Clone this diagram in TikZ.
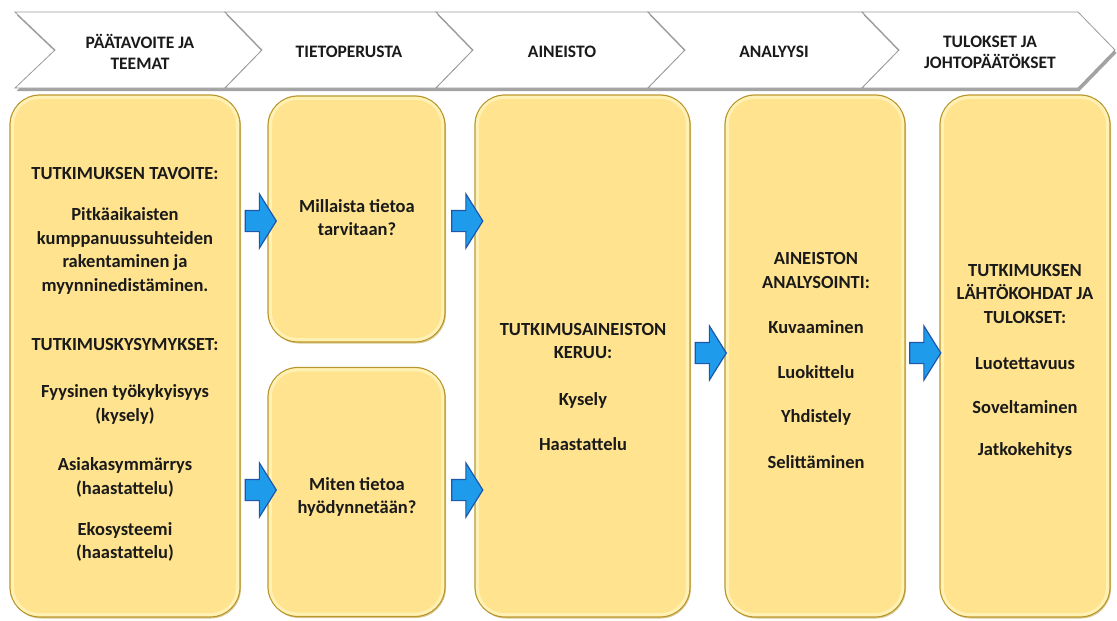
\documentclass[tikz,border=0pt]{standalone}
\usepackage{fontspec}
\setmainfont{Carlito}
\usetikzlibrary{shapes.arrows,shadows}
\definecolor{boxfill}{HTML}{FFE38E}
\definecolor{boxedge}{HTML}{B8962E}
\definecolor{boxglow}{HTML}{FFF0B4}
\definecolor{arrowfill}{HTML}{1E9CEB}
\definecolor{arrowedge}{HTML}{1F56A8}
\definecolor{chevedge}{HTML}{9A9A9A}
\definecolor{chevshade}{HTML}{8C8C8C}
\definecolor{ink}{HTML}{1A1A1A}
\tikzset{
  chevron/.style={fill=white, draw=chevedge, line width=0.8pt,
    drop shadow={shadow xshift=1.5pt, shadow yshift=-3pt, fill=chevshade, opacity=0.8}},
  head/.style={font=\fontsize{17.5}{21}\selectfont\bfseries, text=ink, align=center},
  phase/.style={rounded corners=30, fill=boxfill, draw=boxedge, line width=1.2pt,
    drop shadow={shadow xshift=1pt, shadow yshift=-1.5pt, fill=boxedge, opacity=0.5}},
  glow/.style={rounded corners=27, draw=boxglow, line width=3pt},
  txt/.style={font=\fontsize{18.5}{23.5}\selectfont\bfseries, text=ink, align=center},
  flow/.style={single arrow, fill=arrowfill, draw=arrowedge, line width=1.2pt,
    minimum height=31, inner sep=0pt, text height=20pt, text depth=0pt,
    single arrow head extend=16.5pt, single arrow tip angle=116,
    single arrow head indent=0pt, shape border rotate=0}
}
\begin{document}
\begin{tikzpicture}[x=1pt,y=-1pt]
\useasboundingbox (0,0) rectangle (1117,621);

% process chevrons along the top
\path[chevron] (15,12) -- (225,12) -- (262,50) -- (225,88) -- (15,88) -- (55,50) -- cycle;
\path[chevron] (225,12) -- (436,12) -- (473,50) -- (436,88) -- (225,88) -- (262,50) -- cycle;
\path[chevron] (436,12) -- (648,12) -- (685,50) -- (648,88) -- (436,88) -- (473,50) -- cycle;
\path[chevron] (648,12) -- (862,12) -- (899,50) -- (862,88) -- (648,88) -- (685,50) -- cycle;
\path[chevron] (862,12) -- (1078,12) -- (1115,50) -- (1078,88) -- (862,88) -- (899,50) -- cycle;

\node[head] (h1) at (140,52) {PÄÄTAVOITE JA\\TEEMAT};
\node[head] (h2) at (349,52) {TIETOPERUSTA};
\node[head] (h3) at (562,52) {AINEISTO};
\node[head] (h4) at (774,52) {ANALYYSI};
\node[head] (h5) at (990,52) {TULOKSET JA\\JOHTOPÄÄTÖKSET};

% phase boxes
\node[phase, minimum width=230, minimum height=522] (b1) at (125,356) {};
\node[phase, minimum width=177, minimum height=246] (b2a) at (356.5,219) {};
\node[phase, minimum width=177, minimum height=249] (b2b) at (356.5,492) {};
\node[phase, minimum width=215, minimum height=522] (b3) at (582.5,356) {};
\node[phase, minimum width=180, minimum height=522] (b4) at (815,356) {};
\node[phase, minimum width=170, minimum height=522] (b5) at (1025,356) {};

\foreach \b in {b1,b2a,b2b,b3,b4,b5}{
  \draw[glow] ([shift={(3pt,-3pt)}]\b.north west) rectangle ([shift={(-3pt,3pt)}]\b.south east);
}

% texts
\node[txt] (t1a) at (125,173) {TUTKIMUKSEN TAVOITE:};
\node[txt] (t1b) at (125,251) {Pitkäaikaisten\\kumppanuussuhteiden\\rakentaminen ja\\myynninedistäminen.};
\node[txt] (t1c) at (125,344) {TUTKIMUSKYSYMYKSET:};
\node[txt] (t1d) at (125,404.5) {Fyysinen työkykyisyys\\(kysely)};
\node[txt] (t1e) at (125,477.5) {Asiakasymmärrys\\(haastattelu)};
\node[txt] (t1f) at (125,542) {Ekosysteemi\\(haastattelu)};

\node[txt] (t2a) at (357,217.5) {Millaista tietoa\\tarvitaan?};
\node[txt] (t2b) at (357,497) {Miten tietoa\\hyödynnetään?};

\node[txt] (t3a) at (583,341) {TUTKIMUSAINEISTON\\KERUU:};
\node[txt] (t3b) at (583,400) {Kysely};
\node[txt] (t3c) at (583,444) {Haastattelu};

\node[txt] (t4a) at (816,270.5) {AINEISTON\\ANALYSOINTI:};
\node[txt] (t4b) at (816,327) {Kuvaaminen};
\node[txt] (t4c) at (816,372) {Luokittelu};
\node[txt] (t4d) at (816,417) {Yhdistely};
\node[txt] (t4e) at (816,462) {Selittäminen};

\node[txt] (t5a) at (1025,293.5) {TUTKIMUKSEN\\LÄHTÖKOHDAT JA\\TULOKSET:};
\node[txt] (t5b) at (1025,364) {Luotettavuus};
\node[txt] (t5c) at (1025,407) {Soveltaminen};
\node[txt] (t5d) at (1025,450) {Jatkokehitys};

% block arrows between phases
\node[flow] (a1) at (257.5,221) {};
\node[flow] (a2) at (257.5,490) {};
\node[flow] (a3) at (464,221) {};
\node[flow] (a4) at (464,490) {};
\node[flow] (a5) at (707.5,353) {};
\node[flow] (a6) at (922,353) {};
\end{tikzpicture}
\end{document}
